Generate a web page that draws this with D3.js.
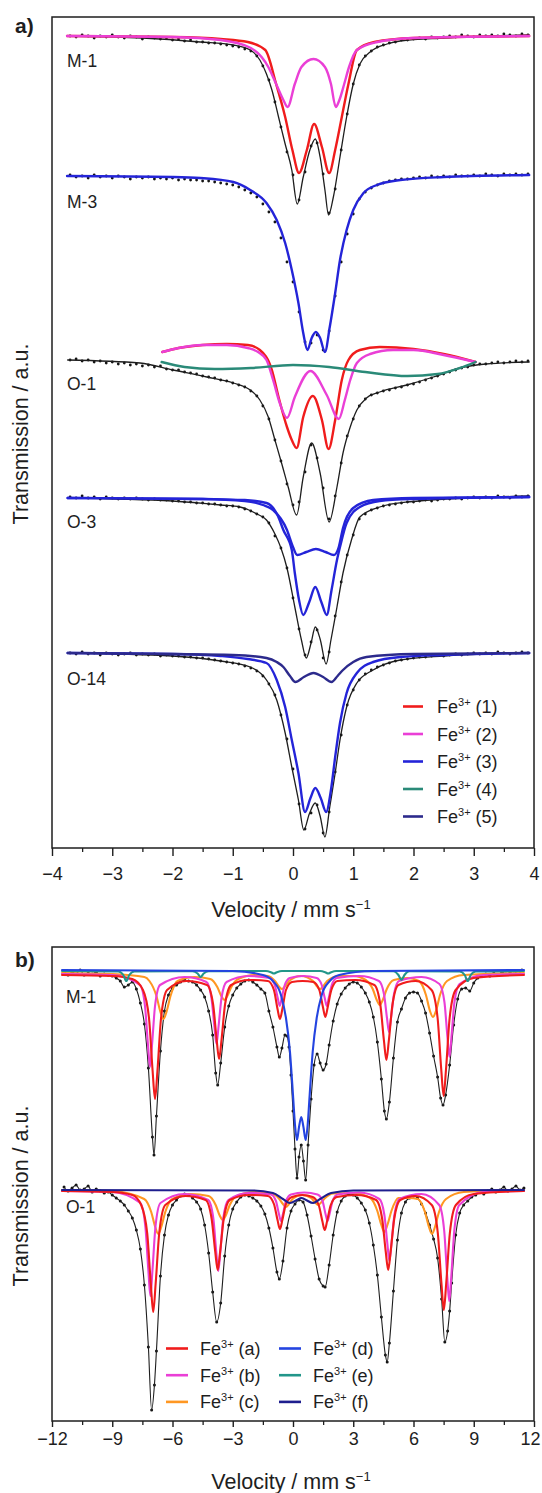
<!DOCTYPE html>
<html><head><meta charset="utf-8">
<script src="https://cdn.jsdelivr.net/npm/d3@7"></script>
<style>
html,body{margin:0;padding:0;background:#fff;}
</style></head><body>
<svg id="fig" width="542" height="1493"></svg>
<script>
// ---------- Panel (a): doublet spectra, velocity grid in mm/s ----------
const velA = [-3.7,-3.6,-3.5,-3.4,-3.3,-3.2,-3.1,-3.0,-2.9,-2.8,-2.7,-2.6,-2.5,-2.4,-2.3,-2.2,-2.1,-2.0,-1.9,-1.8,
  -1.7,-1.6,-1.5,-1.4,-1.3,-1.2,-1.1,-1.0,-0.9,-0.8,-0.7,-0.6,-0.5,-0.4,-0.3,-0.2,-0.1,0.0,0.1,0.2,
  0.3,0.4,0.5,0.6,0.7,0.8,0.9,1.0,1.1,1.2,1.3,1.4,1.5,1.6,1.7,1.8,1.9,2.0,2.1,2.2,
  2.3,2.4,2.5,2.6,2.7,2.8,2.9,3.0,3.1,3.2,3.3,3.4,3.5,3.6,3.7,3.8,3.9];

// measured transmission (stacked, a.u.)
const dataM1 = [81.2,81.1,81.3,81.2,81.0,81.2,81.1,81.3,81.1,81.0,81.2,81.1,80.9,81.1,81.0,80.9,81.0,80.8,80.9,80.7,
  80.8,80.6,80.6,80.5,80.5,80.4,80.3,80.2,80.1,79.9,79.7,79.2,78.2,76.8,74.6,72.1,69.6,67.3,64.8,67.6,
  70.2,70.5,67.4,63.5,65.9,69.8,73.4,76.4,78.3,79.2,79.7,80.1,80.3,80.5,80.6,80.8,80.8,80.9,81.0,80.9,
  81.1,81.0,81.1,81.2,81.1,81.3,81.2,81.1,81.3,81.2,81.3,81.2,81.4,81.3,81.2,81.4,81.3];
const dataM3 = [67.3,67.1,67.2,67.0,67.3,67.1,67.2,67.0,67.2,67.1,66.9,67.1,67.0,67.1,66.9,67.0,66.9,67.0,66.8,66.9,
  66.8,66.8,66.7,66.7,66.6,66.5,66.4,66.3,66.1,65.8,65.5,65.1,64.4,63.6,62.6,61.0,58.6,56.6,53.6,50.6,
  50.5,51.3,49.8,51.7,55.2,58.6,61.4,63.4,64.9,65.6,66.0,66.3,66.5,66.7,66.8,66.9,66.9,67.0,67.1,67.0,
  67.2,67.1,67.2,67.1,67.3,67.2,67.2,67.3,67.2,67.4,67.3,67.2,67.4,67.3,67.4,67.3,67.4];
const dataO1 = [48.8,48.9,48.7,48.8,48.6,48.7,48.5,48.6,48.4,48.5,48.3,48.4,48.2,48.3,48.1,48.2,47.9,47.8,47.8,47.6,
  47.5,47.4,47.2,47.1,47.0,46.8,46.7,46.5,46.3,46.1,45.7,45.2,44.2,42.9,40.8,38.7,36.4,34.3,34.6,37.6,
  40.3,39.0,36.0,32.9,35.2,38.5,41.2,42.9,44.2,44.9,45.3,45.5,45.7,45.8,46.0,46.1,46.3,46.4,46.6,46.8,
  47.0,47.2,47.4,47.6,47.8,48.0,48.1,48.3,48.4,48.4,48.5,48.6,48.5,48.6,48.7,48.6,48.7];
const dataO3 = [35.1,35.0,35.2,35.0,35.1,34.9,35.1,35.0,34.9,35.0,34.9,35.0,34.9,34.8,34.9,34.8,34.8,34.7,34.7,34.6,
  34.6,34.5,34.5,34.4,34.4,34.3,34.2,34.2,34.1,33.9,33.7,33.4,33.1,32.5,31.2,30.0,28.0,25.0,21.9,19.3,
  20.6,21.8,19.0,19.6,23.2,26.6,29.3,31.3,32.9,33.4,33.8,34.0,34.2,34.3,34.4,34.5,34.6,34.6,34.7,34.8,
  34.7,34.8,34.9,34.9,35.0,34.9,35.0,35.1,35.0,35.1,35.0,35.2,35.1,35.0,35.2,35.1,35.2];
const dataO14 = [19.5,19.4,19.6,19.4,19.5,19.3,19.5,19.4,19.3,19.4,19.5,19.3,19.4,19.3,19.4,19.2,19.3,19.2,19.2,19.1,
  19.1,19.0,19.0,18.9,18.8,18.7,18.6,18.5,18.4,18.2,18.0,17.7,17.2,16.4,15.3,13.3,10.9,7.9,4.4,1.9,
  3.5,4.3,1.5,3.6,7.6,11.3,14.3,15.8,16.8,17.4,17.8,18.1,18.3,18.5,18.7,18.8,18.9,19.0,19.1,19.1,
  19.2,19.3,19.2,19.3,19.4,19.3,19.4,19.5,19.4,19.5,19.4,19.6,19.5,19.4,19.5,19.6,19.5];

// fitted envelopes and sub-spectra [velocity, transmission]
const fitM1 = [[-3.75,81.2],[-2.5,81.0],[-1.54,80.6],[-0.99,80.3],[-0.71,79.8],[-0.55,78.8],[-0.44,77.4],[-0.35,75.8],[-0.24,73.1],[-0.13,70.4],[-0.02,67.8],[0.07,64.4],[0.17,67.1],[0.28,69.8],[0.37,70.9],[0.45,69.1],[0.53,65.8],[0.59,63.3],[0.67,65.1],[0.78,69.1],[0.89,73.1],[1.0,76.4],[1.11,78.4],[1.28,79.6],[1.56,80.4],[1.78,80.7],[2.5,81.0],[3.92,81.3]];
const fitM1Fe1 = [[-3.75,81.2],[-2.0,81.1],[-1.2,80.9],[-0.75,80.6],[-0.46,79.8],[-0.28,76.4],[-0.13,73.1],[-0.01,69.8],[0.10,67.5],[0.23,69.8],[0.35,72.4],[0.48,70.1],[0.60,67.5],[0.70,69.8],[0.81,73.1],[0.92,76.4],[1.06,79.8],[1.35,80.6],[2.0,81.0],[3.92,81.2]];
const fitM1Fe2 = [[-3.75,81.2],[-2.0,81.1],[-1.2,80.8],[-0.7,80.0],[-0.41,78.1],[-0.28,76.4],[-0.16,74.8],[-0.09,74.1],[0.03,76.4],[0.14,78.1],[0.34,78.9],[0.53,78.1],[0.63,76.4],[0.71,74.1],[0.77,74.8],[0.85,76.4],[0.93,78.1],[1.06,79.8],[1.4,80.6],[2.0,81.0],[3.92,81.2]];
const fitM3Fe3 = [[-3.75,67.2],[-2.0,67.1],[-1.54,67.0],[-0.99,66.6],[-0.71,65.8],[-0.44,64.5],[-0.27,62.8],[-0.13,60.5],[-0.02,57.8],[0.09,54.5],[0.17,51.5],[0.24,49.8],[0.31,51.0],[0.38,51.6],[0.45,51.0],[0.53,49.6],[0.61,52.1],[0.70,55.5],[0.78,58.8],[0.89,61.8],[1.0,63.8],[1.17,65.5],[1.39,66.3],[1.78,66.8],[2.5,67.1],[3.92,67.3]];
const fitO1 = [[-3.74,48.8],[-2.54,48.5],[-1.99,47.8],[-1.43,47.1],[-0.99,46.5],[-0.71,45.8],[-0.55,44.8],[-0.41,43.1],[-0.30,40.8],[-0.19,38.5],[-0.08,36.1],[0.06,33.3],[0.17,37.1],[0.31,40.5],[0.45,37.5],[0.60,32.6],[0.73,36.1],[0.83,39.5],[0.95,42.1],[1.06,43.8],[1.22,45.0],[1.44,45.6],[1.89,46.3],[2.33,47.1],[2.77,48.0],[3.2,48.4],[3.92,48.6]];
const fitO1Fe1 = [[-2.17,49.6],[-1.9,50.0],[-1.5,50.3],[-1.1,50.4],[-0.75,50.3],[-0.55,49.8],[-0.35,47.8],[-0.24,45.1],[-0.10,42.1],[-0.02,40.8],[0.06,40.0],[0.17,43.1],[0.33,45.2],[0.48,42.8],[0.59,39.9],[0.70,42.8],[0.81,46.8],[0.92,48.8],[1.11,49.8],[1.44,50.1],[2.0,49.9],[2.5,49.4],[3.03,48.6]];
const fitO1Fe2 = [[-2.17,49.6],[-1.9,50.0],[-1.5,50.3],[-1.1,50.3],[-0.75,50.0],[-0.58,49.6],[-0.44,48.8],[-0.33,46.8],[-0.22,44.5],[-0.10,43.0],[0.03,45.1],[0.29,47.7],[0.56,45.3],[0.76,42.9],[0.86,44.8],[0.95,46.8],[1.06,48.5],[1.28,49.4],[1.66,49.8],[2.0,49.8],[2.5,49.3],[3.03,48.6]];
const fitO1Fe4 = [[-2.18,48.6],[-1.8,48.1],[-1.3,47.9],[-0.7,48.0],[0.0,48.3],[0.6,48.1],[1.2,47.6],[1.9,47.2],[2.4,47.4],[2.77,48.0],[3.03,48.6]];
const fitO3 = [[-3.74,35.0],[-2.0,34.7],[-1.2,34.3],[-0.88,34.1],[-0.6,33.4],[-0.44,32.8],[-0.30,31.4],[-0.20,30.0],[-0.10,28.0],[0.03,24.1],[0.14,20.8],[0.22,19.0],[0.30,20.5],[0.37,22.1],[0.45,20.9],[0.55,18.4],[0.63,20.8],[0.73,24.1],[0.83,27.5],[0.97,30.8],[1.11,33.1],[1.44,34.1],[1.89,34.6],[3.92,35.2]];
const fitO3Fe3 = [[-3.74,35.0],[-1.5,34.9],[-0.8,34.8],[-0.44,34.5],[-0.25,33.2],[-0.16,31.8],[-0.02,29.8],[0.03,27.5],[0.10,24.8],[0.17,23.3],[0.27,24.6],[0.37,26.1],[0.47,24.6],[0.56,23.3],[0.64,25.8],[0.73,28.8],[0.78,30.1],[0.89,32.5],[1.11,34.1],[1.44,34.7],[2.0,34.9],[3.92,35.1]];
const fitO3Fe3Broad = [[-3.74,35.0],[-1.5,34.9],[-0.8,34.7],[-0.5,34.3],[-0.33,33.8],[-0.10,31.8],[0.0,30.1],[0.07,29.3],[0.22,29.6],[0.38,29.9],[0.54,29.6],[0.68,29.3],[0.76,30.1],[0.83,32.0],[1.0,34.0],[1.33,34.8],[2.0,35.0],[3.92,35.1]];
const fitO14 = [[-3.74,19.5],[-2.0,19.2],[-1.2,18.7],[-0.71,18.1],[-0.44,16.8],[-0.27,14.8],[-0.13,11.5],[-0.02,8.1],[0.09,4.8],[0.18,1.8],[0.27,3.4],[0.37,4.5],[0.45,3.2],[0.53,1.1],[0.61,4.1],[0.70,7.5],[0.78,10.8],[0.89,14.1],[1.06,16.5],[1.33,17.8],[1.78,18.8],[2.5,19.2],[3.92,19.5]];
const fitO14Fe3 = [[-3.74,19.5],[-2.0,19.4],[-1.2,19.2],[-0.75,18.9],[-0.44,18.5],[-0.27,16.8],[-0.13,14.1],[-0.02,10.8],[0.09,7.5],[0.20,3.6],[0.29,5.0],[0.37,6.0],[0.46,5.0],[0.55,3.6],[0.63,5.8],[0.70,9.1],[0.78,12.5],[0.89,15.5],[1.06,17.5],[1.33,18.6],[1.78,19.1],[2.5,19.3],[3.92,19.5]];
const fitO14Fe5 = [[-3.74,19.5],[-2.0,19.4],[-1.0,19.3],[-0.44,19.0],[-0.27,18.6],[-0.16,18.1],[-0.05,17.2],[0.04,16.6],[0.18,17.1],[0.34,17.5],[0.50,17.1],[0.64,16.6],[0.74,17.2],[0.83,17.8],[1.0,18.6],[1.22,19.1],[2.0,19.4],[3.92,19.5]];

// ---------- Panel (b): sextet spectra [velocity, transmission] ----------
const dataBM1 = [[-11.4,45.0],[-11.2,44.6],[-11.0,44.9],[-10.8,44.7],[-10.6,45.1],[-10.4,44.6],[-10.2,44.8],[-10.0,44.7],[-9.8,44.9],[-9.6,44.5],[-9.4,44.7],[-9.2,44.6],[-9.0,44.5],[-8.8,44.3],[-8.6,44.0],[-8.4,43.4],[-8.2,43.6],[-8.0,43.9],[-7.8,43.2],[-7.6,41.8],[-7.4,39.7],[-7.2,35.3],[-7.0,28.4],[-6.92,26.6],[-6.8,30.5],[-6.6,37.0],[-6.4,41.0],[-6.2,42.6],[-6.0,43.3],[-5.8,43.6],[-5.6,43.9],[-5.4,44.1],[-5.2,44.0],[-5.0,43.9],[-4.8,43.6],[-4.6,43.1],[-4.4,42.4],[-4.2,41.0],[-4.0,38.6],[-3.85,34.8],[-3.75,33.6],[-3.6,35.8],[-3.4,39.4],[-3.2,41.5],[-3.0,42.6],[-2.8,43.3],[-2.6,43.7],[-2.4,44.0],[-2.2,44.1],[-2.0,43.9],[-1.8,43.6],[-1.6,43.2],[-1.4,42.8],[-1.2,41.0],[-1.0,39.4],[-0.8,37.4],[-0.68,36.4],[-0.55,37.3],[-0.4,38.6],[-0.3,38.5],[-0.2,37.4],[-0.1,34.6],[0.0,31.0],[0.1,27.2],[0.2,24.3],[0.3,26.4],[0.41,27.6],[0.52,26.0],[0.63,24.1],[0.75,27.6],[0.9,32.2],[1.05,35.6],[1.2,36.7],[1.35,35.8],[1.5,35.1],[1.65,35.7],[1.8,37.6],[2.0,40.0],[2.2,41.7],[2.4,42.7],[2.6,43.3],[2.8,43.7],[3.0,43.9],[3.2,43.8],[3.4,43.4],[3.6,42.8],[3.8,41.9],[4.0,40.4],[4.2,37.9],[4.4,34.2],[4.55,31.0],[4.65,30.2],[4.8,31.9],[5.0,36.3],[5.2,39.9],[5.4,41.2],[5.6,42.3],[5.8,42.8],[6.0,42.9],[6.2,42.8],[6.4,42.0],[6.6,40.8],[6.8,38.8],[7.0,36.5],[7.2,34.4],[7.35,32.3],[7.47,31.6],[7.6,32.6],[7.8,35.6],[8.0,39.6],[8.2,42.2],[8.4,43.2],[8.6,43.3],[8.8,43.0],[9.0,43.8],[9.2,44.3],[9.4,44.5],[9.6,44.7],[9.8,44.5],[10.0,44.8],[10.2,44.6],[10.4,44.9],[10.6,44.7],[10.8,44.8],[11.0,45.0],[11.2,44.7],[11.4,45.1]];
const dataBO1 = [[-11.4,23.4],[-11.2,23.0],[-11.0,23.3],[-10.8,23.6],[-10.6,23.1],[-10.4,23.2],[-10.2,23.5],[-10.0,22.9],[-9.8,23.2],[-9.6,23.0],[-9.4,22.8],[-9.2,22.9],[-9.0,22.6],[-8.8,22.3],[-8.6,22.0],[-8.4,21.6],[-8.2,21.0],[-8.0,20.3],[-7.8,19.1],[-7.6,17.2],[-7.4,13.6],[-7.2,7.4],[-7.04,1.1],[-6.9,3.6],[-6.8,7.0],[-6.6,14.5],[-6.4,18.6],[-6.2,20.6],[-6.0,21.6],[-5.8,22.1],[-5.6,22.5],[-5.4,22.7],[-5.2,22.6],[-5.0,22.3],[-4.8,21.9],[-4.6,21.2],[-4.4,19.6],[-4.2,16.8],[-4.0,12.9],[-3.8,9.9],[-3.6,11.8],[-3.4,16.5],[-3.2,19.6],[-3.0,21.2],[-2.8,21.9],[-2.6,22.4],[-2.4,22.6],[-2.2,22.5],[-2.0,22.3],[-1.8,22.0],[-1.6,21.5],[-1.4,20.7],[-1.2,19.3],[-1.0,17.3],[-0.8,14.9],[-0.68,14.2],[-0.5,16.0],[-0.3,19.3],[-0.1,21.0],[0.1,21.7],[0.3,22.1],[0.5,21.9],[0.7,20.6],[0.9,18.5],[1.1,16.2],[1.3,14.2],[1.5,13.5],[1.6,13.4],[1.8,15.6],[2.0,18.6],[2.2,20.9],[2.4,22.0],[2.6,22.5],[2.8,22.7],[3.0,22.6],[3.2,22.3],[3.4,21.8],[3.6,21.1],[3.8,19.8],[4.0,17.6],[4.2,14.6],[4.4,10.4],[4.6,6.6],[4.69,5.9],[4.8,7.8],[5.0,13.0],[5.2,18.1],[5.4,20.8],[5.6,21.9],[5.8,22.3],[6.0,22.5],[6.2,22.3],[6.4,21.7],[6.6,20.8],[6.8,19.6],[7.0,18.2],[7.2,16.3],[7.4,12.2],[7.56,7.9],[7.7,9.0],[7.8,11.0],[7.9,13.8],[8.1,18.6],[8.3,20.8],[8.5,21.6],[8.7,22.0],[8.9,22.4],[9.1,22.6],[9.3,22.9],[9.5,22.7],[9.7,23.0],[9.9,23.2],[10.1,22.9],[10.3,23.1],[10.5,23.4],[10.7,23.0],[10.9,23.2],[11.1,23.5],[11.3,23.1],[11.5,23.3]];

const fitBM1a = [[-11.5,44.6],[-9,44.5],[-8.0,44.2],[-7.47,43.1],[-7.17,40.3],[-6.99,35.0],[-6.87,32.2],[-6.75,35.0],[-6.57,40.3],[-6.27,43.1],[-5.3,44.0],[-4.28,43.6],[-3.98,41.7],[-3.80,38.1],[-3.68,36.2],[-3.56,38.1],[-3.38,41.7],[-3.08,43.6],[-2.2,44.1],[-1.25,44.0],[-0.95,43.1],[-0.77,41.2],[-0.65,40.2],[-0.53,41.2],[-0.35,43.1],[-0.05,43.9],[0.48,44.0],[1.01,43.9],[1.31,43.1],[1.49,41.4],[1.61,40.4],[1.73,41.4],[1.91,43.1],[2.21,44.0],[3.1,44.1],[4.05,43.6],[4.35,41.6],[4.53,38.0],[4.65,36.1],[4.77,38.0],[4.95,41.6],[5.25,43.6],[6.1,44.0],[6.9,43.1],[7.2,40.3],[7.38,35.2],[7.50,32.5],[7.62,35.2],[7.80,40.3],[8.10,43.1],[9,44.3],[11.5,44.6]];
const fitBM1b = [[-11.5,44.7],[-9,44.6],[-7.62,43.6],[-7.37,41.5],[-7.22,37.6],[-7.12,35.4],[-7.02,37.6],[-6.87,41.5],[-6.62,43.6],[-5.4,44.4],[-4.31,43.9],[-4.06,42.3],[-3.91,39.4],[-3.81,37.7],[-3.71,39.4],[-3.56,42.3],[-3.31,43.9],[-2.2,44.5],[-1.16,44.3],[-0.91,43.6],[-0.76,42.3],[-0.66,41.5],[-0.56,42.3],[-0.41,43.6],[-0.16,44.3],[0.5,44.5],[1.18,44.3],[1.43,43.6],[1.58,42.3],[1.68,41.5],[1.78,42.3],[1.93,43.6],[2.18,44.3],[3.3,44.5],[4.28,44.0],[4.53,42.7],[4.68,40.3],[4.78,38.9],[4.88,40.3],[5.03,42.7],[5.28,44.0],[6.4,44.4],[7.29,43.7],[7.54,41.9],[7.69,38.4],[7.79,36.4],[7.89,38.4],[8.04,41.9],[8.29,43.7],[9.5,44.6],[11.5,44.7]];
const fitBM1c = [[-11.5,44.8],[-9,44.7],[-7.4,44.4],[-7.15,44.0],[-6.8,42.5],[-6.6,40.9],[-6.45,40.2],[-6.3,40.9],[-6.1,42.5],[-5.75,44.0],[-4.9,44.4],[-4.12,44.2],[-3.77,43.4],[-3.57,42.5],[-3.42,42.1],[-3.27,42.5],[-3.07,43.4],[-2.72,44.2],[-1.9,44.6],[-1.25,44.5],[-0.9,44.0],[-0.7,43.45],[-0.55,43.2],[-0.4,43.45],[-0.2,44.0],[0.4,44.5],[1.0,44.0],[1.2,43.45],[1.35,43.2],[1.5,43.45],[1.7,44.0],[2.3,44.5],[3.0,44.5],[3.62,44.1],[3.97,43.2],[4.17,42.1],[4.32,41.6],[4.47,42.1],[4.67,43.2],[5.02,44.1],[5.7,44.3],[6.27,44.0],[6.62,42.6],[6.82,41.0],[6.97,40.4],[7.12,41.0],[7.32,42.6],[7.67,44.0],[8.5,44.6],[11.5,44.8]];
const fitBM1d = [[-11.5,45.1],[-3,45.0],[-1.5,44.6],[-1.0,44.0],[-0.6,42.6],[-0.35,40.3],[-0.15,36.9],[0.0,32.6],[0.1,29.6],[0.2,28.1],[0.3,29.4],[0.41,30.4],[0.52,29.4],[0.63,28.1],[0.73,29.6],[0.83,32.6],[0.98,36.9],[1.18,40.3],[1.43,42.6],[1.83,44.0],[2.3,44.6],[4,45.0],[11.5,45.1]];
const fitBM1e = [[-11.5,45.0],[-8.7,44.95],[-8.45,44.6],[-8.3,44.0],[-8.15,44.6],[-7.9,44.95],[-5.0,44.98],[-4.75,44.75],[-4.6,44.4],[-4.45,44.75],[-4.2,44.98],[-1.35,45.0],[-1.1,44.88],[-0.95,44.75],[-0.8,44.88],[-0.55,45.0],[1.35,45.0],[1.6,44.88],[1.75,44.75],[1.9,44.88],[2.15,45.0],[5.0,44.98],[5.25,44.6],[5.4,44.1],[5.55,44.6],[5.8,44.98],[8.3,44.95],[8.55,44.6],[8.7,44.0],[8.85,44.6],[9.1,44.95],[11.5,45.0]];
const fitBO1a = [[-11.5,23.0],[-9,22.9],[-8.0,22.6],[-7.56,21.6],[-7.26,18.8],[-7.08,13.7],[-6.96,10.9],[-6.84,13.7],[-6.66,18.8],[-6.36,21.6],[-5.35,22.5],[-4.35,22.1],[-4.05,20.2],[-3.87,16.9],[-3.75,15.1],[-3.63,16.9],[-3.45,20.2],[-3.15,22.1],[-2.2,22.6],[-1.25,22.5],[-0.95,21.7],[-0.77,20.1],[-0.65,19.2],[-0.53,20.1],[-0.35,21.7],[-0.05,22.4],[0.47,22.6],[0.98,22.4],[1.28,21.6],[1.46,20.0],[1.58,19.1],[1.70,20.0],[1.88,21.6],[2.18,22.4],[3.15,22.6],[4.14,22.1],[4.44,20.2],[4.62,16.9],[4.74,15.1],[4.86,16.9],[5.04,20.2],[5.34,22.1],[6.1,22.5],[6.91,21.6],[7.21,18.8],[7.39,13.8],[7.51,11.1],[7.63,13.8],[7.81,18.8],[8.11,21.6],[9,22.7],[11.5,23.0]];
const fitBO1b = [[-11.5,23.0],[-9,22.9],[-7.60,21.8],[-7.35,19.4],[-7.20,15.0],[-7.10,12.5],[-7.00,15.0],[-6.85,19.4],[-6.60,21.8],[-5.4,22.7],[-4.22,22.1],[-3.97,20.3],[-3.82,16.9],[-3.72,15.0],[-3.62,16.9],[-3.47,20.3],[-3.22,22.1],[-2.2,22.8],[-1.10,22.65],[-0.85,22.0],[-0.70,20.7],[-0.60,20.0],[-0.50,20.7],[-0.35,22.0],[-0.10,22.65],[0.56,22.85],[1.22,22.65],[1.47,22.0],[1.62,20.7],[1.72,20.0],[1.82,20.7],[1.97,22.0],[2.22,22.65],[3.3,22.85],[4.30,22.2],[4.55,20.6],[4.70,17.7],[4.80,16.0],[4.90,17.7],[5.05,20.6],[5.30,22.2],[6.4,22.7],[7.28,21.6],[7.53,19.0],[7.68,14.4],[7.78,12.0],[7.88,14.4],[8.03,19.0],[8.28,21.6],[9.5,22.9],[11.5,23.0]];
const fitBO1c = [[-11.5,23.1],[-9,23.0],[-7.41,22.2],[-7.06,20.9],[-6.86,19.4],[-6.71,18.7],[-6.56,19.4],[-6.36,20.9],[-6.01,22.2],[-5.1,22.7],[-4.2,22.5],[-3.85,21.6],[-3.65,20.55],[-3.5,20.1],[-3.35,20.55],[-3.15,21.6],[-2.8,22.5],[-1.9,22.9],[-1.05,22.75],[-0.7,22.25],[-0.5,21.7],[-0.35,21.4],[-0.2,21.7],[0.0,22.25],[0.45,22.6],[0.9,22.3],[1.1,21.85],[1.25,21.6],[1.4,21.85],[1.6,22.3],[2.0,22.75],[3.0,22.8],[3.85,22.3],[4.2,21.0],[4.4,19.6],[4.55,18.9],[4.7,19.6],[4.9,21.0],[5.25,22.3],[5.75,22.3],[6.22,22.2],[6.57,20.9],[6.77,19.4],[6.92,18.7],[7.07,19.4],[7.27,20.9],[7.62,22.2],[8.5,22.9],[11.5,23.1]];
const fitBO1f = [[-11.5,23.1],[-2,23.05],[-1.0,22.8],[-0.5,22.2],[-0.15,21.8],[0.2,22.1],[0.42,22.3],[0.65,22.1],[1.0,21.8],[1.35,22.2],[1.9,22.8],[3,23.05],[11.5,23.1]];

// axis ticks and labels
const ticksA = [-4,-3,-2,-1,0,1,2,3,4];
const minorTicksA = [-3.5,-2.5,-1.5,-0.5,0.5,1.5,2.5,3.5];
const ticksB = [-12,-9,-6,-3,0,3,6,9,12];
const minorTicksB = [-10.5,-7.5,-4.5,-1.5,1.5,4.5,7.5,10.5];
const samplesA = ["M-1","M-3","O-1","O-3","O-14"];
const samplesB = ["M-1","O-1"];
const legendA = ["(1)","(2)","(3)","(4)","(5)"];
const legendB = ["(a)","(b)","(c)","(d)","(e)","(f)"];

// ---------- styling & layout ----------
const FONT = '"Liberation Sans", Arial, Helvetica, sans-serif';
const INK = "#1e1e1e";
const COL = {
  fe1: "#f01c1c", fe2: "#ea3fd6", fe3: "#2424d8", fe4: "#2a8a78", fe5: "#2c2a8c",
  a: "#f01c1c", b: "#ea3fd6", c: "#ff9722", d: "#2444e0", e: "#22968a", f: "#1e1e8e"
};
const panelA = {left: 52, right: 534, top: 17, bottom: 848};
const panelB = {left: 52, right: 534, top: 947, bottom: 1421};

const svg = d3.select("#fig");
const xA = d3.scaleLinear().domain([-4, 4]).range([panelA.left, panelA.right]);
const yA = d3.scaleLinear().domain([0, 83.1]).range([panelA.bottom, panelA.top]);
const xB = d3.scaleLinear().domain([-12, 12]).range([panelB.left, panelB.right]);
const yB = d3.scaleLinear().domain([0, 47.4]).range([panelB.bottom, panelB.top]);

const defs = svg.append("defs");
function clip(id, p) {
  defs.append("clipPath").attr("id", id).append("rect")
    .attr("x", p.left).attr("y", p.top).attr("width", p.right - p.left).attr("height", p.bottom - p.top);
}
clip("clipA", panelA);
clip("clipB", panelB);

function curve(g, pts, x, y, color, w) {
  const gen = d3.line().x(d => x(d[0])).y(d => y(d[1])).curve(d3.curveMonotoneX);
  g.append("path").datum(pts).attr("d", gen).attr("fill", "none")
    .attr("stroke", color).attr("stroke-width", w)
    .attr("stroke-linejoin", "round").attr("stroke-linecap", "round");
}
function dots(g, pts, x, y, r) {
  g.append("g").selectAll("circle").data(pts).join("circle")
    .attr("cx", d => x(d[0])).attr("cy", d => y(d[1])).attr("r", r).attr("fill", "#141414");
}
const onGrid = (grid, vals) => grid.map((v, i) => [v, vals[i]]);

function frame(p) {
  svg.append("rect").attr("x", p.left).attr("y", p.top)
    .attr("width", p.right - p.left).attr("height", p.bottom - p.top)
    .attr("fill", "none").attr("stroke", INK).attr("stroke-width", 1.5);
}
function bottomAxis(p, x, major, minor, size, pad) {
  const gMaj = svg.append("g").attr("transform", `translate(0,${p.bottom})`)
    .call(d3.axisBottom(x).tickValues(major).tickSize(size).tickPadding(pad).tickFormat(d3.format("d")));
  gMaj.select(".domain").remove();
  gMaj.selectAll("line").attr("stroke", INK).attr("stroke-width", 1.4);
  gMaj.selectAll("text").attr("font-family", FONT).attr("font-size", 18).attr("fill", INK);
  const gMin = svg.append("g").attr("transform", `translate(0,${p.bottom})`)
    .call(d3.axisBottom(x).tickValues(minor).tickSize(4).tickFormat(""));
  gMin.select(".domain").remove();
  gMin.selectAll("line").attr("stroke", INK).attr("stroke-width", 1.3);
  return gMaj;
}
function text(str, x, y, size, opts = {}) {
  return svg.append("text").attr("x", x).attr("y", y).attr("font-family", FONT)
    .attr("font-size", size).attr("fill", INK)
    .attr("font-weight", opts.bold ? "bold" : null)
    .attr("text-anchor", opts.anchor || "start").text(str);
}
function velocityTitle(y) {
  const t = svg.append("text").attr("x", 291).attr("y", y).attr("text-anchor", "middle")
    .attr("font-family", FONT).attr("font-size", 21.5).attr("fill", INK);
  t.append("tspan").text("Velocity / mm s");
  t.append("tspan").attr("font-size", 13).attr("dy", -8).text("\u22121");
}
function yTitle(cy) {
  svg.append("text").attr("transform", `translate(28,${cy}) rotate(-90)`)
    .attr("text-anchor", "middle").attr("font-family", FONT).attr("font-size", 21.5)
    .attr("fill", INK).text("Transmission / a.u.");
}
function legendItem(x0, x1, tx, cy, color, tag) {
  svg.append("line").attr("x1", x0).attr("x2", x1).attr("y1", cy).attr("y2", cy)
    .attr("stroke", color).attr("stroke-width", 2.6);
  const t = svg.append("text").attr("x", tx).attr("y", cy + 6.5)
    .attr("font-family", FONT).attr("font-size", 18).attr("fill", INK);
  t.append("tspan").text("Fe");
  t.append("tspan").attr("font-size", 11).attr("dy", -7).text("3+");
  t.append("tspan").attr("dy", 7).text(" " + tag);
}

// ---------- panel (a) ----------
const gA = svg.append("g").attr("clip-path", "url(#clipA)");
const LW = 2.4, EW = 1.3, RA = 1.4;

// M-1
dots(gA, onGrid(velA, dataM1), xA, yA, RA);
curve(gA, fitM1, xA, yA, INK, EW);
curve(gA, fitM1Fe1, xA, yA, COL.fe1, LW);
curve(gA, fitM1Fe2, xA, yA, COL.fe2, LW);
// M-3
dots(gA, onGrid(velA, dataM3), xA, yA, RA);
curve(gA, fitM3Fe3, xA, yA, COL.fe3, LW);
// O-1
dots(gA, onGrid(velA, dataO1), xA, yA, RA);
curve(gA, fitO1, xA, yA, INK, EW);
curve(gA, fitO1Fe1, xA, yA, COL.fe1, LW);
curve(gA, fitO1Fe2, xA, yA, COL.fe2, LW);
curve(gA, fitO1Fe4, xA, yA, COL.fe4, LW);
// O-3
dots(gA, onGrid(velA, dataO3), xA, yA, RA);
curve(gA, fitO3, xA, yA, INK, EW);
curve(gA, fitO3Fe3Broad, xA, yA, COL.fe3, LW);
curve(gA, fitO3Fe3, xA, yA, COL.fe3, LW);
// O-14
dots(gA, onGrid(velA, dataO14), xA, yA, RA);
curve(gA, fitO14, xA, yA, INK, EW);
curve(gA, fitO14Fe3, xA, yA, COL.fe3, LW);
curve(gA, fitO14Fe5, xA, yA, COL.fe5, LW);

frame(panelA);
bottomAxis(panelA, xA, ticksA, minorTicksA, 8, 11);
velocityTitle(917);
yTitle(434);
text("a)", 15, 33, 21, {bold: true});
const labelBaseA = [67, 208, 390, 528, 685];
samplesA.forEach((s, i) => text(s, 67, labelBaseA[i], 17.5));
const legColA = [COL.fe1, COL.fe2, COL.fe3, COL.fe4, COL.fe5];
legendA.forEach((tag, i) => legendItem(403, 423, 437, 706.5 + i * 27.5, legColA[i], tag));

// ---------- panel (b) ----------
const gB = svg.append("g").attr("clip-path", "url(#clipB)");
const LWB = 2.1, RB = 1.5;
// M-1
dots(gB, dataBM1, xB, yB, RB);
curve(gB, dataBM1, xB, yB, INK, 1.1);
curve(gB, fitBM1c, xB, yB, COL.c, LWB);
curve(gB, fitBM1b, xB, yB, COL.b, LWB);
curve(gB, fitBM1a, xB, yB, COL.a, LWB);
curve(gB, fitBM1e, xB, yB, COL.e, LWB);
curve(gB, fitBM1d, xB, yB, COL.d, LWB);
// O-1
dots(gB, dataBO1, xB, yB, RB);
curve(gB, dataBO1, xB, yB, INK, 1.1);
curve(gB, fitBO1c, xB, yB, COL.c, LWB);
curve(gB, fitBO1b, xB, yB, COL.b, LWB);
curve(gB, fitBO1a, xB, yB, COL.a, LWB);
curve(gB, fitBO1f, xB, yB, COL.f, LWB);

frame(panelB);
const axB = bottomAxis(panelB, xB, ticksB, minorTicksB, 6, 5);
// keep the last tick label inside the page edge
axB.selectAll(".tick").filter(d => d === 12).select("text")
  .attr("text-anchor", "end").attr("x", 6);
velocityTitle(1489);
yTitle(1196);
text("b)", 15, 967, 21, {bold: true});
const labelBaseB = [1003, 1213];
samplesB.forEach((s, i) => text(s, 66, labelBaseB[i], 17.5));
const legColB = [COL.a, COL.b, COL.c, COL.d, COL.e, COL.f];
legendB.forEach((tag, i) => {
  const col = Math.floor(i / 3), row = i % 3;
  const lx = col === 0 ? 166 : 279;
  legendItem(lx, lx + 22, lx + 34, 1348.5 + row * 26.7, legColB[i], tag);
});
</script>
</body></html>
